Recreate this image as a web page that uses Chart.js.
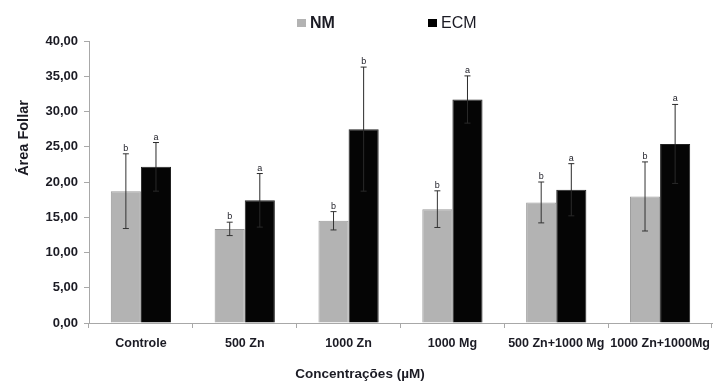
<!DOCTYPE html>
<html>
<head>
<meta charset="utf-8">
<script src="https://cdn.jsdelivr.net/npm/chart.js@4"></script>
<style>
  html, body { margin: 0; padding: 0; background: #fff; }
  #wrap { width: 720px; height: 383px; position: relative; }
</style>
</head>
<body>
<div id="wrap"><canvas id="chart"></canvas></div>
<script>
/* =========================================================
   DATA
========================================================= */
const categories = ["Controle", "500 Zn", "1000 Zn", "1000 Mg", "500 Zn+1000 Mg", "1000 Zn+1000Mg"];

const nmValues  = [18.7, 13.35, 14.5, 16.15, 17.1, 17.95];
const nmErrors  = [5.3, 0.95, 1.3, 2.6, 2.9, 4.9];
const nmLetters = ["b", "b", "b", "b", "b", "b"];

const ecmValues  = [22.15, 17.4, 27.5, 31.7, 18.9, 25.4];
const ecmErrors  = [3.45, 3.8, 8.8, 3.35, 3.7, 5.6];
const ecmLetters = ["a", "a", "b", "a", "a", "a"];

const yTicks = [0, 5, 10, 15, 20, 25, 30, 35, 40];

const FONT = "'Liberation Sans', Arial, sans-serif";
const TEXT = "#1b1b24";

/* =========================================================
   PLUGINS
========================================================= */
// error bars + significance letters
const errorBars = {
  id: "errorBars",
  afterDatasetsDraw(chart) {
    const ctx = chart.ctx;
    const y = chart.scales.y;
    const sets = [[nmErrors, nmLetters, "#333"], [ecmErrors, ecmLetters, "#2a2a2a"]];
    sets.forEach(([errs, letters, col], di) => {
      const meta = chart.getDatasetMeta(di);
      meta.data.forEach((bar, i) => {
        const v = chart.data.datasets[di].data[i];
        const top = y.getPixelForValue(v + errs[i]);
        const bot = y.getPixelForValue(v - errs[i]);
        ctx.save();
        ctx.strokeStyle = col;
        ctx.lineWidth = 1;
        ctx.beginPath();
        ctx.moveTo(bar.x, top); ctx.lineTo(bar.x, bot);
        ctx.moveTo(bar.x - 3, top); ctx.lineTo(bar.x + 3, top);
        ctx.moveTo(bar.x - 3, bot); ctx.lineTo(bar.x + 3, bot);
        ctx.stroke();
        ctx.fillStyle = TEXT;
        ctx.font = "9px " + FONT;
        ctx.textAlign = "center";
        ctx.textBaseline = "bottom";
        ctx.fillText(letters[i], bar.x, top - 1);
        ctx.restore();
      });
    });
  }
};

// legend and axis titles at the reference positions
const extras = {
  id: "extras",
  afterDraw(chart) {
    const ctx = chart.ctx;
    ctx.save();
    ctx.fillStyle = "#b3b3b3";
    ctx.fillRect(297, 19, 9, 8);
    ctx.fillStyle = "#000";
    ctx.fillRect(428, 19, 9, 8);

    ctx.fillStyle = TEXT;
    ctx.textBaseline = "middle";
    ctx.textAlign = "left";
    ctx.font = "bold 16px " + FONT;
    ctx.fillText("NM", 310, 24);
    ctx.font = "16px " + FONT;
    ctx.fillText("ECM", 441, 24);

    ctx.textAlign = "center";
    ctx.font = "bold 13.5px " + FONT;
    ctx.fillText("Concentrações (µM)", 360, 374);

    ctx.translate(24, 138);
    ctx.rotate(-Math.PI / 2);
    ctx.font = "bold 14.5px " + FONT;
    ctx.fillText("Área Follar", 0, 0);
    ctx.restore();
  }
};

/* =========================================================
   CHART
========================================================= */
new Chart(document.getElementById("chart"), {
  type: "bar",
  data: {
    labels: categories,
    datasets: [
      {
        label: "NM",
        data: nmValues,
        backgroundColor: "#b3b3b3",
        borderColor: "#9a9a9a",
        borderWidth: 1,
        categoryPercentage: 0.58,
        barPercentage: 1.0
      },
      {
        label: "ECM",
        data: ecmValues,
        backgroundColor: "#050505",
        borderColor: "#222",
        borderWidth: 1,
        categoryPercentage: 0.58,
        barPercentage: 1.0
      }
    ]
  },
  options: {
    responsive: true,
    maintainAspectRatio: false,
    animation: false,
    layout: { padding: { top: 41, right: 8, left: 0, bottom: 0 } },
    plugins: {
      legend: { display: false },
      tooltip: { enabled: false }
    },
    scales: {
      x: {
        grid: {
          display: true,
          drawOnChartArea: false,
          offset: true,
          color: "#a8a8a8",
          tickLength: 5
        },
        border: { color: "#a8a8a8" },
        ticks: {
          color: TEXT,
          font: { family: FONT, size: 12.5, weight: "bold" },
          padding: 8,
          maxRotation: 0,
          autoSkip: false
        },
        afterFit: s => { s.height = 60; }
      },
      y: {
        min: 0,
        max: 40,
        afterBuildTicks: s => { s.ticks = yTicks.map(v => ({ value: v })); },
        grid: {
          display: true,
          drawOnChartArea: false,
          color: "#a8a8a8",
          tickLength: 5
        },
        border: { color: "#a8a8a8" },
        ticks: {
          color: TEXT,
          font: { family: FONT, size: 13, weight: "bold" },
          padding: 6,
          callback: v => v.toFixed(2).replace(".", ",")
        },
        afterFit: s => { s.width = 89; }
      }
    }
  },
  plugins: [errorBars, extras]
});
</script>
</body>
</html>
